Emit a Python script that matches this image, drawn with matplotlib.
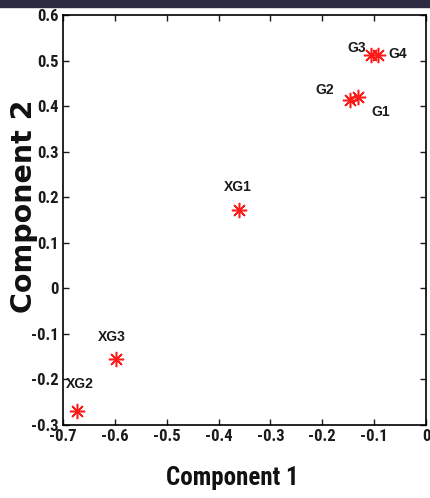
import matplotlib.pyplot as plt
from matplotlib import font_manager
from matplotlib.patches import Rectangle

# sample scores on the first two components
names = ['XG1', 'XG2', 'XG3', 'G1', 'G2', 'G3', 'G4']
comp1 = [-0.361, -0.673, -0.598, -0.131, -0.147, -0.106, -0.093]
comp2 = [0.171, -0.270, -0.155, 0.420, 0.413, 0.512, 0.512]
# label offsets in points (dx, dy)
offsets = [(-1, 17), (2, 20), (-3, 16), (16, -11), (-18, 7), (-10, 5), (14, 1)]

# narrow font if one is around, else plain Liberation Sans
avail = {f.name for f in font_manager.fontManager.ttflist}
narrow, stretch = 'Liberation Sans', 'normal'
for cand in ['Liberation Sans Narrow', 'Roboto Condensed', 'Open Sans Condensed']:
    if cand in avail:
        narrow = cand
        break
else:
    if any(f.name == 'DejaVu Sans' and 'condensed' in str(f.stretch)
           for f in font_manager.fontManager.ttflist):
        narrow, stretch = 'DejaVu Sans', 'condensed'
has_narrow = narrow != 'Liberation Sans'

plt.rcParams['font.family'] = ['Liberation Sans', 'DejaVu Sans']

fig = plt.figure(figsize=(4.3, 4.98), dpi=100)
fig.add_artist(Rectangle((0, 1 - 7 / 498), 1, 7 / 498, transform=fig.transFigure,
                         color='#2b2a40', zorder=10))

ax = fig.add_axes([63 / 430, 1 - 425 / 498, 363 / 430, 410 / 498])
ax.plot(comp1, comp2, linestyle='none', marker=(8, 2, 0), markersize=11,
        color='#ff1a1a', markeredgewidth=1.1)

for n, x, y, (dx, dy) in zip(names, comp1, comp2, offsets):
    ax.annotate(n, (x, y), xytext=(dx, dy), textcoords='offset points',
                ha='center', va='center', fontsize=10, color='#1a1a1a',
                fontweight='bold')

ax.set_xlim(-0.7, 0)
ax.set_ylim(-0.3, 0.6)
ax.set_xticks([-0.7, -0.6, -0.5, -0.4, -0.3, -0.2, -0.1, 0])
ax.set_xticklabels(['-0.7', '-0.6', '-0.5', '-0.4', '-0.3', '-0.2', '-0.1', '0'])
ax.set_yticks([-0.3, -0.2, -0.1, 0, 0.1, 0.2, 0.3, 0.4, 0.5, 0.6])
ax.set_yticklabels(['-0.3', '-0.2', '-0.1', '0', '0.1', '0.2', '0.3', '0.4', '0.5', '0.6'])
ax.tick_params(direction='in', top=True, right=True, length=4, width=1,
               labelsize=12 if has_narrow else 11, pad=3, colors='#1a1a1a')
for lab in ax.get_xticklabels() + ax.get_yticklabels():
    lab.set_fontweight('bold')
    lab.set_family(narrow)
    lab.set_fontstretch(stretch)
for s in ax.spines.values():
    s.set_linewidth(1.2)

ax.set_xlabel('Component 1', fontsize=18 if has_narrow else 16.5,
              fontweight='bold', family=narrow, fontstretch=stretch,
              color='#111111')
ax.xaxis.set_label_coords(0.466, -0.099)
ax.set_ylabel('Component 2', fontsize=20.5, fontweight='bold',
              family=['DejaVu Sans'], color='#111111')
ax.yaxis.set_label_coords(-0.069, 0.534)

fig.savefig('out.png', dpi=100)
